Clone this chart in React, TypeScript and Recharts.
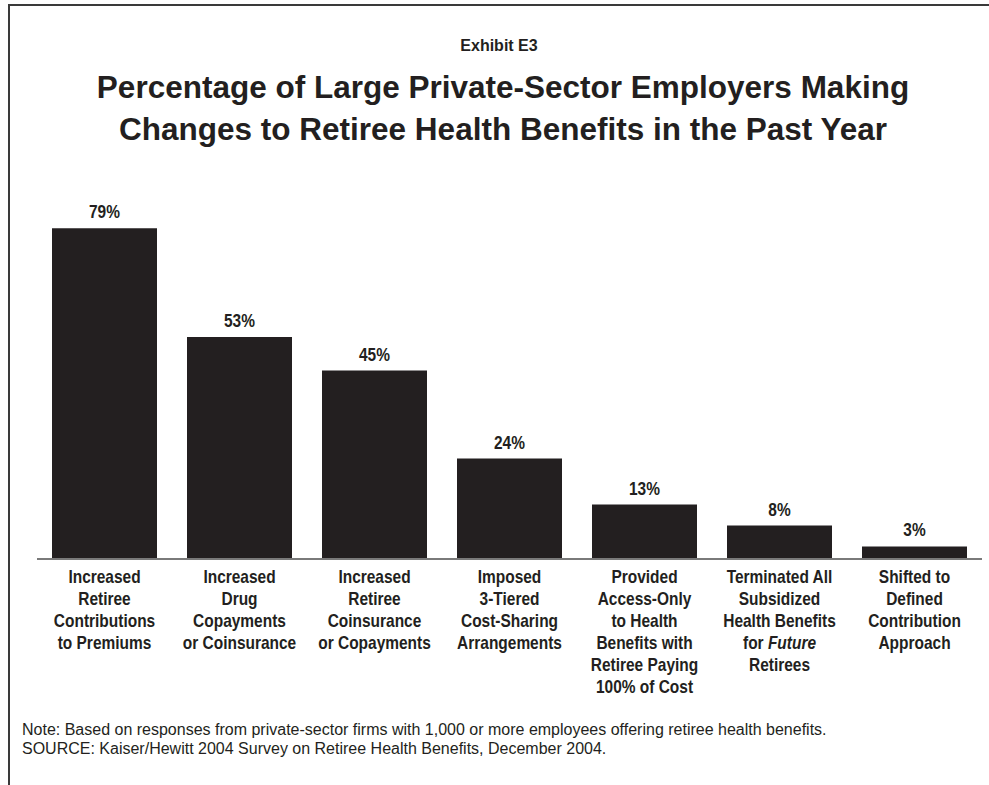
import { BarChart, Bar, XAxis, YAxis, LabelList } from 'recharts';

const categoryLines = [
  ['Increased', 'Retiree', 'Contributions', 'to Premiums'],
  ['Increased', 'Drug', 'Copayments', 'or Coinsurance'],
  ['Increased', 'Retiree', 'Coinsurance', 'or Copayments'],
  ['Imposed', '3-Tiered', 'Cost-Sharing', 'Arrangements'],
  ['Provided', 'Access-Only', 'to Health', 'Benefits with', 'Retiree Paying', '100% of Cost'],
  ['Terminated All', 'Subsidized', 'Health Benefits', 'for _Future_', 'Retirees'],
  ['Shifted to', 'Defined', 'Contribution', 'Approach'],
];
const values = [79, 53, 45, 24, 13, 8, 3];

const data = categoryLines.map((lines, i) => ({ name: lines.join('\n'), value: values[i] }));

const ink = '#231f20';
const sans = '"Liberation Sans", Arial, sans-serif';
// no condensed face installed, so squeeze the bold sans horizontally
const squeeze = 0.86;

function CategoryTick(props: any) {
  const { x, y, payload } = props;
  const lines: string[] = String(payload.value).split('\n');
  return (
    <g transform={`translate(${x},${y}) scale(${squeeze},1)`}>
      <text textAnchor="middle" fontFamily={sans} fontSize={18} fontWeight="bold" fill={ink}>
        {lines.map((line, i) => (
          <tspan key={i} x={0} y={24 + i * 22}>
            {line.split('_').map((part, j) => (
              <tspan key={j} fontStyle={j % 2 === 1 ? 'italic' : 'normal'}>{part}</tspan>
            ))}
          </tspan>
        ))}
      </text>
    </g>
  );
}

function ValueLabel(props: any) {
  const { x, y, width, value } = props;
  const cx = x + width / 2;
  return (
    <g transform={`translate(${cx},${y - 10}) scale(${squeeze},1)`}>
      <text textAnchor="middle" fontFamily={sans} fontSize={18} fontWeight="bold" fill={ink}>
        {`${value}%`}
      </text>
    </g>
  );
}

export default function App() {
  return (
    <div style={{ position: 'absolute', left: 0, top: 0, width: 989, height: 785, background: '#fff', overflow: 'hidden' }}>
      <div
        style={{
          position: 'absolute', left: 8, top: 4, width: 990, height: 790,
          borderTop: '2px solid #3a3a3a', borderLeft: '2px solid #3a3a3a',
        }}
      />
      <div style={{ position: 'absolute', left: 9, width: 980, top: 37, textAlign: 'center', fontFamily: sans, fontWeight: 'bold', fontSize: 16, color: ink }}>
        Exhibit E3
      </div>
      <div style={{ position: 'absolute', left: 9, width: 988, top: 66, textAlign: 'center', fontFamily: sans, fontWeight: 'bold', fontSize: 31.5, lineHeight: '42px', color: ink, whiteSpace: 'nowrap' }}>
        Percentage of Large Private-Sector Employers Making<br />
        Changes to Retiree Health Benefits in the Past Year
      </div>
      <div style={{ position: 'absolute', left: 0, top: 0 }}>
        <BarChart width={989} height={785} data={data} margin={{ top: 224, right: 7, bottom: 66, left: 37 }}>
          <XAxis
            dataKey="name"
            height={160}
            interval={0}
            tickLine={false}
            tickSize={0}
            tickMargin={0}
            axisLine={{ stroke: '#7a7a7a', strokeWidth: 2 }}
            tick={<CategoryTick />}
          />
          <YAxis hide domain={[0, 80]} />
          <Bar dataKey="value" fill={ink} barSize={105} isAnimationActive={false}>
            <LabelList dataKey="value" content={<ValueLabel />} />
          </Bar>
        </BarChart>
      </div>
      <div style={{ position: 'absolute', left: 22, top: 720, fontFamily: sans, fontSize: 16, lineHeight: '19px', color: ink, whiteSpace: 'nowrap' }}>
        Note: Based on responses from private-sector firms with 1,000 or more employees offering retiree health benefits.<br />
        SOURCE: Kaiser/Hewitt 2004 Survey on Retiree Health Benefits, December 2004.
      </div>
    </div>
  );
}
